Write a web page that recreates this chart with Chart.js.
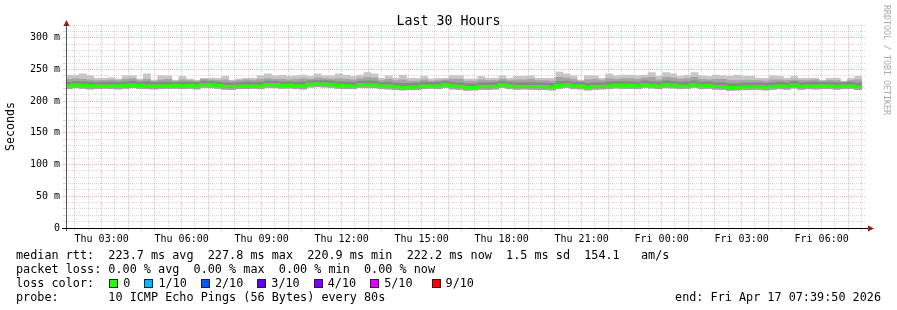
<!DOCTYPE html>
<html>
<head>
<meta charset="utf-8">
<script src="https://cdn.jsdelivr.net/npm/chart.js@4/dist/chart.umd.min.js"></script>
<style>
  body { margin: 0; background: #fff; }
  #wrap { position: relative; width: 897px; height: 310px; background: #fff; overflow: hidden; }
  #c { position: absolute; left: 0; top: 0; }
  .mono { font-family: "DejaVu Sans Mono", monospace; color: #000; white-space: pre; position: absolute; }
  #title { left: 0; width: 897px; top: 12.5px; text-align: center; font-size: 13.3px; line-height: 16px; }
  #legend { left: 16px; top: 247.5px; font-size: 11.8px; line-height: 14px; }
  #end { right: 16px; top: 289.5px; font-size: 11.8px; line-height: 14px; }
  #mark { left: 882px; top: 5px; font-size: 8.3px; line-height: 10px; color: #aaa; writing-mode: vertical-rl; }
  .box { display: inline-block; width: 7px; height: 7px; border: 1px solid #222; vertical-align: -1px; margin: 0 5px 0 1px; }
  .lab { margin-right: 13px; }
</style>
</head>
<body>
<div id="wrap">
  <canvas id="c" width="897" height="310"></canvas>
  <div id="title" class="mono"></div>
  <div id="legend" class="mono"></div>
  <div id="end" class="mono"></div>
  <div id="mark" class="mono">RRDTOOL / TOBI OETIKER</div>
</div>
<script>
// time axis in hours after Thu 00:00
const xStart = 1 + 39 / 60 + 50 / 3600;   // Thu 01:39:50
const xEnd = xStart + 30;                 // Fri 07:39:50
const binMinutes = 16;
const lastBinEnd = 31.5;                  // last sample Fri 07:30

const labelHours = [3, 6, 9, 12, 15, 18, 21, 24, 27, 30];
const labelTexts = ['Thu 03:00', 'Thu 06:00', 'Thu 09:00', 'Thu 12:00', 'Thu 15:00',
  'Thu 18:00', 'Thu 21:00', 'Fri 00:00', 'Fri 03:00', 'Fri 06:00'];

// rtt in ms, one value per 16 min bin
const rttMedian = [
  224, 225.5, 224.5, 224, 224, 224, 224, 224, 224.5, 225.5,
  224.5, 224, 224, 224, 224, 224.5, 224, 224.5, 224, 226,
  225.5, 224.5, 223, 223, 224, 224, 224, 224, 226, 226,
  224.5, 224.5, 224, 224, 226.5, 227, 227, 226, 224.5, 224,
  224, 226, 226, 225.5, 224, 224, 222.5, 222, 222, 222.5,
  224, 224, 224, 226, 224, 223, 221.5, 221.5, 223, 223,
  223.5, 226, 224, 223, 223, 223, 223, 222.5, 222, 224.5,
  226, 224, 224, 222, 223, 223, 224, 225, 225, 224.5,
  224, 226, 225, 224, 226, 225, 224, 224, 226, 224,
  224.5, 223, 223, 221.5, 221.5, 222.5, 222.5, 223, 222, 223,
  224, 223, 225, 223, 224, 224, 224, 224, 223, 224, 224, 222.5];
const rttMin = [
  219.5, 221, 220, 219, 219.5, 220, 219.5, 219, 220, 221,
  220, 219.5, 219, 219.5, 220, 220, 219.5, 220, 219, 221.5,
  221, 220, 218.5, 218, 219.5, 219.5, 220, 219.5, 221.5, 221,
  220, 220.5, 219.5, 219, 222, 222.5, 222, 221.5, 220, 219.5,
  219.5, 221.5, 221, 221, 219.5, 219, 218, 217.5, 218, 218,
  219.5, 220, 219.5, 221.5, 219, 218.5, 217, 217.5, 218.5, 218,
  219, 221.5, 219.5, 218.5, 219, 218.5, 218, 218, 217.5, 220,
  221.5, 219.5, 219, 217.5, 218.5, 219, 219.5, 220.5, 220, 220,
  219.5, 221.5, 220.5, 219.5, 221, 220.5, 219.5, 220, 221.5, 219.5,
  220, 218.5, 218, 217, 217.5, 218, 218, 218.5, 217.5, 218.5,
  219.5, 218.5, 220.5, 218.5, 219.5, 219, 219.5, 219.5, 218.5, 219.5, 219.5, 218];
const rttP8 = [
  230, 231, 230.5, 230, 229.5, 230, 230, 229.5, 230.5, 231.5,
  230, 230.5, 229.5, 230, 230, 229.5, 230, 230, 229.5, 231.5,
  231, 230, 229, 228.5, 229.5, 230, 229.5, 230, 232, 231.5,
  230.5, 230.5, 230, 230.5, 232, 232.5, 232.5, 231.5, 230.5, 230,
  230, 231.5, 232, 231.5, 229.5, 230, 228.5, 228, 228, 228.5,
  230, 229.5, 230, 231.5, 230, 229, 227.5, 227.5, 229, 229,
  229.5, 231.5, 230, 229, 229, 229.5, 229, 228.5, 228, 231,
  231.5, 230, 229.5, 228, 229, 229, 230.5, 231, 231, 230.5,
  230, 232, 231, 230, 232, 231, 230, 230.5, 232, 230,
  230.5, 229, 229, 227.5, 227.5, 228.5, 228.5, 229, 228, 229,
  230, 229, 231, 229, 230, 230, 229.5, 230, 229, 229, 230, 228.5];
const rttP9 = [
  234.5, 235.5, 234.5, 233.5, 232.5, 232.5, 233.5, 232.5, 234.5, 235.5,
  232.5, 234.5, 231.5, 233.5, 234.5, 231.5, 233.5, 232.5, 231.5, 234.5,
  233.5, 232.5, 233.5, 231.5, 232.5, 233.5, 232.5, 234.5, 235.5, 234.5,
  234.5, 233.5, 234.5, 235.5, 234.5, 236.5, 235.5, 234.5, 235.5, 234.5,
  233.5, 235.5, 237.5, 236.5, 232.5, 234.5, 232.5, 233.5, 231.5, 231.5,
  233.5, 231.5, 232.5, 233.5, 234.5, 234.5, 231.5, 231.5, 233.5, 232.5,
  232.5, 234.5, 232.5, 233.5, 233.5, 234.5, 232.5, 232.5, 231.5, 237.5,
  236.5, 234.5, 231.5, 233.5, 234.5, 232.5, 235.5, 234.5, 235.5, 235.5,
  234.5, 236.5, 237.5, 233.5, 237.5, 236.5, 234.5, 235.5, 237.5, 234.5,
  233.5, 234.5, 234.5, 232.5, 232.5, 232.5, 232.5, 232.5, 231.5, 233.5,
  233.5, 232.5, 233.5, 232.5, 232.5, 233.5, 231.5, 232.5, 232.5, 230.5, 232.5, 233.5];
const rttMax = [
  241, 241, 243, 240, 236, 236, 237, 235, 240, 240,
  235, 243, 233, 240, 240, 233, 239, 235, 233, 236,
  236, 236, 239, 233, 235, 236, 236, 240, 243, 240,
  241, 239, 240, 241, 239, 243, 240, 240, 243, 241,
  239, 241, 245, 243, 236, 240, 236, 241, 236, 236,
  239, 235, 236, 236, 240, 240, 235, 235, 239, 236,
  236, 240, 236, 239, 239, 240, 236, 236, 236, 246,
  243, 240, 233, 240, 240, 236, 243, 240, 241, 241,
  240, 241, 245, 239, 245, 243, 239, 241, 245, 240,
  239, 241, 240, 239, 241, 239, 239, 236, 236, 240,
  239, 236, 239, 236, 236, 236, 233, 236, 236, 231, 236, 239];

const rttStatNames = ['avg', 'max', 'min', 'now'];
const rttStatValues = [223.7, 227.8, 220.9, 222.2];
const rttSd = 1.5;
const rttAmps = 154.1;
const lossStatValues = [0, 0, 0, 0];
const lossLabels = ['0', '1/10', '2/10', '3/10', '4/10', '5/10', '9/10'];
const lossColors = ['#26ff00', '#00b8ff', '#0059ff', '#5e00ff', '#7e00ff', '#dd00ff', '#ff0000'];
const probeText = '10 ICMP Echo Pings (56 Bytes) every 80s';
const endText = 'Fri Apr 17 07:39:50 2026';

// text parts
document.getElementById('title').textContent = 'Last 30 Hours';
const rttLine = 'median rtt:  ' + rttStatValues.map((v, i) => v.toFixed(1) + ' ms ' + rttStatNames[i]).join('  ')
  + '  ' + rttSd.toFixed(1) + ' ms sd  ' + rttAmps.toFixed(1) + '   am/s';
const lossLine = 'packet loss: ' + lossStatValues.map((v, i) => v.toFixed(2) + ' % ' + rttStatNames[i]).join('  ');
let colorLine = 'loss color:  ';
lossLabels.forEach((l, i) => {
  const extra = i === lossLabels.length - 1 ? ' style="margin-left:6px"' : '';
  colorLine += '<span class="box"' + extra + ' data-c="' + i + '"></span><span class="lab">' + l + '</span>';
});
document.getElementById('legend').innerHTML = rttLine + '\n' + lossLine + '\n' + colorLine + '\nprobe:       ' + probeText;
document.querySelectorAll('.box').forEach(b => { b.style.background = lossColors[+b.dataset.c]; });
document.getElementById('end').textContent = 'end: ' + endText;

// chart
const binH = binMinutes / 60;
const n = rttMedian.length;
const binCenter = i => lastBinEnd - (n - i - 0.5) * binH;
const band = (lo, hi) => lo.map((v, i) => ({ x: binCenter(i), y: [v, hi[i]] }));
const medianPts = rttMedian.map((v, i) => ({ x: lastBinEnd - (n - i) * binH, y: v }));
medianPts.push({ x: lastBinEnd, y: rttMedian[n - 1] });

const majorGrid = 'rgba(255,0,0,0.3)';
const minorGrid = 'rgba(140,140,140,0.34)';
const mono = 'DejaVu Sans Mono';

const axesPlugin = {
  id: 'rrdAxes',
  afterDraw(chart) {
    const { ctx, chartArea: a } = chart;
    ctx.save();
    ctx.lineWidth = 1;
    ctx.strokeStyle = '#555';
    ctx.beginPath();
    ctx.moveTo(a.left + 0.5, a.top - 1);
    ctx.lineTo(a.left + 0.5, a.bottom + 3);
    ctx.stroke();
    ctx.strokeStyle = '#000';
    ctx.beginPath();
    ctx.moveTo(a.left - 4, a.bottom + 0.5);
    ctx.lineTo(a.right + 3, a.bottom + 0.5);
    ctx.stroke();
    ctx.fillStyle = '#8e1e1e';
    ctx.beginPath();
    ctx.moveTo(a.right + 2, a.bottom - 2.5);
    ctx.lineTo(a.right + 8, a.bottom + 0.5);
    ctx.lineTo(a.right + 2, a.bottom + 3.5);
    ctx.fill();
    ctx.beginPath();
    ctx.moveTo(a.left - 2.5, a.top + 1);
    ctx.lineTo(a.left + 0.5, a.top - 5);
    ctx.lineTo(a.left + 3.5, a.top + 1);
    ctx.fill();
    ctx.restore();
  }
};

new Chart(document.getElementById('c'), {
  type: 'bar',
  data: {
    datasets: [
      { type: 'line', data: medianPts, borderColor: '#26ff00', borderWidth: 3, pointRadius: 0,
        stepped: true, borderCapStyle: 'butt', order: 0 },
      { data: band(rttMedian, rttP8), backgroundColor: '#888888', order: 1 },
      { data: band(rttMin, rttP9), backgroundColor: '#a4a4a4', order: 2 },
      { data: band(rttMin, rttMax), backgroundColor: '#c6c6c6', order: 3 }
    ]
  },
  options: {
    responsive: false,
    animation: false,
    devicePixelRatio: 1,
    layout: { padding: { left: 0, right: 31, top: 25, bottom: 0 } },
    datasets: { bar: { grouped: false, barPercentage: 1, categoryPercentage: 1, borderWidth: 0 } },
    plugins: { legend: { display: false }, tooltip: { enabled: false }, title: { display: false } },
    scales: {
      x: {
        type: 'linear', min: xStart, max: xEnd, offset: false, z: 1,
        afterBuildTicks: s => {
          const t = [];
          for (let h = 2; h <= lastBinEnd; h += 0.5) t.push({ value: h });
          s.ticks = t;
        },
        afterFit: s => { s.height = 82; },
        grid: {
          color: c => (c.tick && c.tick.value % 1 === 0 ? majorGrid : minorGrid),
          tickColor: c => (c.tick && c.tick.value % 1 === 0 ? majorGrid : minorGrid),
          tickLength: 3, offset: false
        },
        border: { display: false, dash: [1, 1] },
        ticks: {
          autoSkip: false, maxRotation: 0, padding: 2, color: '#000',
          font: { family: mono, size: 10 },
          callback: v => { const k = labelHours.indexOf(v); return k >= 0 ? labelTexts[k] : ''; }
        }
      },
      y: {
        min: 0, max: 320, z: 1,
        afterFit: s => { s.width = 66; },
        grid: {
          color: c => (c.tick && c.tick.value % 50 === 0 ? majorGrid : minorGrid),
          tickColor: c => (c.tick && c.tick.value % 50 === 0 ? majorGrid : minorGrid),
          tickLength: 3
        },
        border: { display: false, dash: [1, 1] },
        ticks: {
          stepSize: 10, autoSkip: false, padding: 3, color: '#000',
          font: { family: mono, size: 10 },
          callback: v => (v % 50 ? '' : (v === 0 ? '0' : v + ' m'))
        },
        title: { display: true, text: 'Seconds', color: '#000', padding: { top: 4, bottom: 0 },
          font: { family: mono, size: 11.6 } }
      }
    }
  },
  plugins: [axesPlugin]
});
</script>
</body>
</html>
